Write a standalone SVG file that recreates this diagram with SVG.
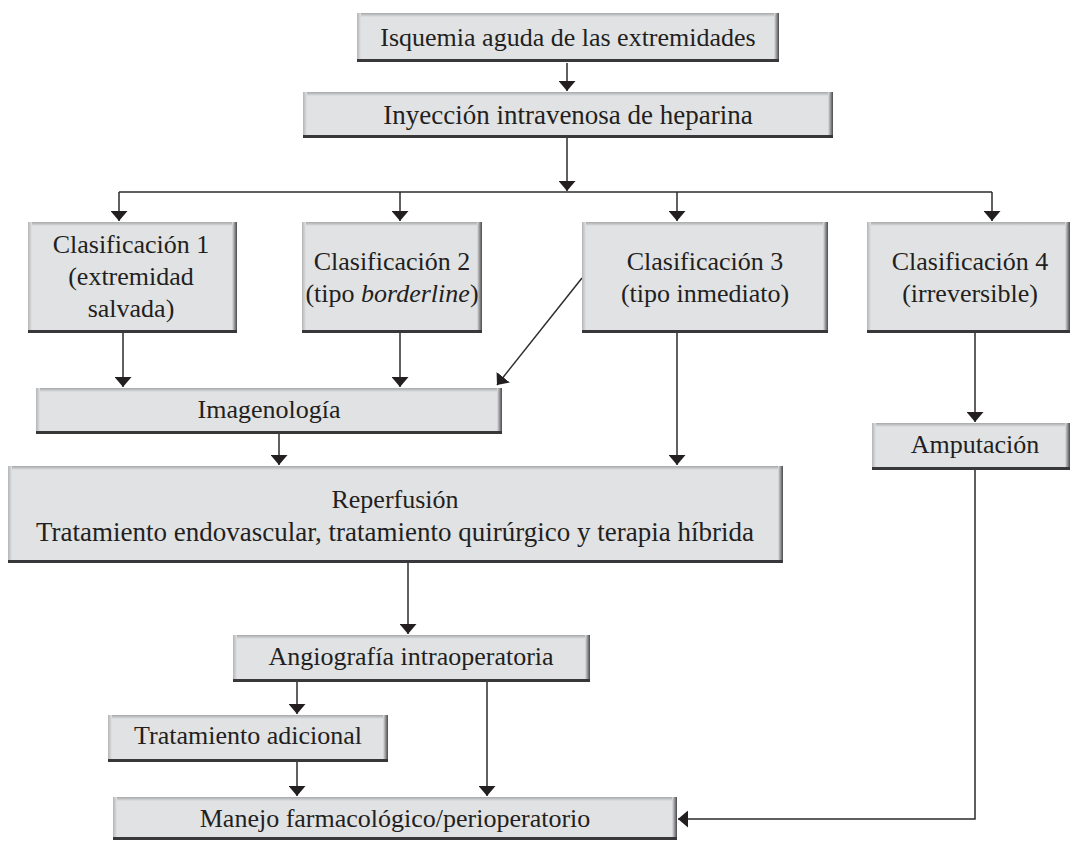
<svg xmlns="http://www.w3.org/2000/svg" width="1072" height="841" viewBox="0 0 1072 841">
<defs>
<linearGradient id="gT" x1="0" y1="0" x2="0" y2="1"><stop offset="0" stop-color="#a6a7a9"/><stop offset="1" stop-color="#e1e2e4"/></linearGradient>
<linearGradient id="gL" x1="0" y1="0" x2="1" y2="0"><stop offset="0" stop-color="#b3b4b6"/><stop offset="1" stop-color="#e1e2e4"/></linearGradient>
<linearGradient id="gR" x1="0" y1="0" x2="1" y2="0"><stop offset="0" stop-color="#e1e2e4"/><stop offset="1" stop-color="#4a4a4c"/></linearGradient>
<marker id="ah" viewBox="0 0 10 17" refX="10" refY="8.5" markerWidth="10" markerHeight="17" markerUnits="userSpaceOnUse" orient="auto" preserveAspectRatio="none"><path d="M0,0 L10,8.5 L0,17 z" fill="#231f20"/></marker>
</defs>
<style>
.bx{fill:#e1e2e4}
.bt{fill:url(#gT)}
.bl{fill:url(#gL)}
.br{fill:url(#gR)}
.bb{fill:#38383a}
text{font-family:"Liberation Serif","Times New Roman",serif;font-size:26px;fill:#231f20;text-anchor:middle}
.lg{font-size:27px}
.ln{fill:none;stroke:#2b2b2b;stroke-width:1.5}
.ar{marker-end:url(#ah)}
</style>
<rect width="1072" height="841" fill="#ffffff"/>
<g id="connectors">
<path class="ln ar" d="M567,63 V91"/>
<path class="ln ar" d="M567,138 V191"/>
<path class="ln" d="M119,192 H992"/>
<path class="ln ar" d="M119,192 V221"/>
<path class="ln ar" d="M400,192 V221"/>
<path class="ln ar" d="M677,192 V221"/>
<path class="ln ar" d="M992,192 V221"/>
<path class="ln ar" d="M123,333 V387"/>
<path class="ln ar" d="M400,333 V387"/>
<path class="ln ar" d="M582,278 L497,385"/>
<path class="ln ar" d="M279,434 V465"/>
<path class="ln ar" d="M677,333 V465"/>
<path class="ln ar" d="M975,333 V422"/>
<path class="ln ar" d="M408,563 V634"/>
<path class="ln ar" d="M297,682 V714"/>
<path class="ln ar" d="M487,682 V796"/>
<path class="ln ar" d="M297,762 V796"/>
<path class="ln ar" d="M975,470 V819 H678"/>
</g>
<g id="n1">
<rect class="bx" x="357" y="13" width="422" height="49"/><rect class="bt" x="357" y="13" width="422" height="4"/><rect class="bl" x="357" y="13" width="4" height="49"/><rect class="br" x="774" y="13" width="5" height="49"/><rect class="bb" x="357" y="59" width="422" height="3"/>
<text x="568" y="46">Isquemia aguda de las extremidades</text>
</g>
<g id="n2">
<rect class="bx" x="303" y="92" width="530" height="46"/><rect class="bt" x="303" y="92" width="530" height="4"/><rect class="bl" x="303" y="92" width="4" height="46"/><rect class="br" x="828" y="92" width="5" height="46"/><rect class="bb" x="303" y="135" width="530" height="3"/>
<text class="lg" x="568" y="124">Inyección intravenosa de heparina</text>
</g>
<g id="n3">
<rect class="bx" x="28" y="222" width="209" height="111"/><rect class="bt" x="28" y="222" width="209" height="4"/><rect class="bl" x="28" y="222" width="4" height="111"/><rect class="br" x="232" y="222" width="5" height="111"/><rect class="bb" x="28" y="330" width="209" height="3"/>
<text x="131" y="253">Clasificación 1</text>
<text x="131" y="285">(extremidad</text>
<text x="131" y="317">salvada)</text>
</g>
<g id="n4">
<rect class="bx" x="302" y="222" width="180" height="111"/><rect class="bt" x="302" y="222" width="180" height="4"/><rect class="bl" x="302" y="222" width="4" height="111"/><rect class="br" x="477" y="222" width="5" height="111"/><rect class="bb" x="302" y="330" width="180" height="3"/>
<text x="392" y="270">Clasificación 2</text>
<text x="392" y="302">(tipo <tspan font-style="italic">borderline</tspan>)</text>
</g>
<g id="n5">
<rect class="bx" x="582" y="222" width="246" height="111"/><rect class="bt" x="582" y="222" width="246" height="4"/><rect class="bl" x="582" y="222" width="4" height="111"/><rect class="br" x="823" y="222" width="5" height="111"/><rect class="bb" x="582" y="330" width="246" height="3"/>
<text x="705" y="270">Clasificación 3</text>
<text x="705" y="302">(tipo inmediato)</text>
</g>
<g id="n6">
<rect class="bx" x="867" y="222" width="203" height="111"/><rect class="bt" x="867" y="222" width="203" height="4"/><rect class="bl" x="867" y="222" width="4" height="111"/><rect class="br" x="1065" y="222" width="5" height="111"/><rect class="bb" x="867" y="330" width="203" height="3"/>
<text x="970" y="270">Clasificación 4</text>
<text x="970" y="302">(irreversible)</text>
</g>
<g id="n7">
<rect class="bx" x="36" y="388" width="466" height="46"/><rect class="bt" x="36" y="388" width="466" height="4"/><rect class="bl" x="36" y="388" width="4" height="46"/><rect class="br" x="497" y="388" width="5" height="46"/><rect class="bb" x="36" y="431" width="466" height="3"/>
<text x="269" y="418">Imagenología</text>
</g>
<g id="n8">
<rect class="bx" x="872" y="423" width="198" height="47"/><rect class="bt" x="872" y="423" width="198" height="4"/><rect class="bl" x="872" y="423" width="4" height="47"/><rect class="br" x="1065" y="423" width="5" height="47"/><rect class="bb" x="872" y="467" width="198" height="3"/>
<text x="975" y="453">Amputación</text>
</g>
<g id="n9">
<rect class="bx" x="8" y="466" width="775" height="97"/><rect class="bt" x="8" y="466" width="775" height="4"/><rect class="bl" x="8" y="466" width="4" height="97"/><rect class="br" x="778" y="466" width="5" height="97"/><rect class="bb" x="8" y="560" width="775" height="3"/>
<text x="395" y="508">Reperfusión</text>
<text class="lg" x="395" y="541">Tratamiento endovascular, tratamiento quirúrgico y terapia híbrida</text>
</g>
<g id="n10">
<rect class="bx" x="233" y="635" width="357" height="47"/><rect class="bt" x="233" y="635" width="357" height="4"/><rect class="bl" x="233" y="635" width="4" height="47"/><rect class="br" x="585" y="635" width="5" height="47"/><rect class="bb" x="233" y="679" width="357" height="3"/>
<text x="411" y="665">Angiografía intraoperatoria</text>
</g>
<g id="n11">
<rect class="bx" x="108" y="715" width="280" height="47"/><rect class="bt" x="108" y="715" width="280" height="4"/><rect class="bl" x="108" y="715" width="4" height="47"/><rect class="br" x="383" y="715" width="5" height="47"/><rect class="bb" x="108" y="759" width="280" height="3"/>
<text x="248" y="744">Tratamiento adicional</text>
</g>
<g id="n12">
<rect class="bx" x="113" y="797" width="564" height="43"/><rect class="bt" x="113" y="797" width="564" height="4"/><rect class="bl" x="113" y="797" width="4" height="43"/><rect class="br" x="672" y="797" width="5" height="43"/><rect class="bb" x="113" y="837" width="564" height="3"/>
<text x="395" y="827">Manejo farmacológico/perioperatorio</text>
</g>
</svg>
